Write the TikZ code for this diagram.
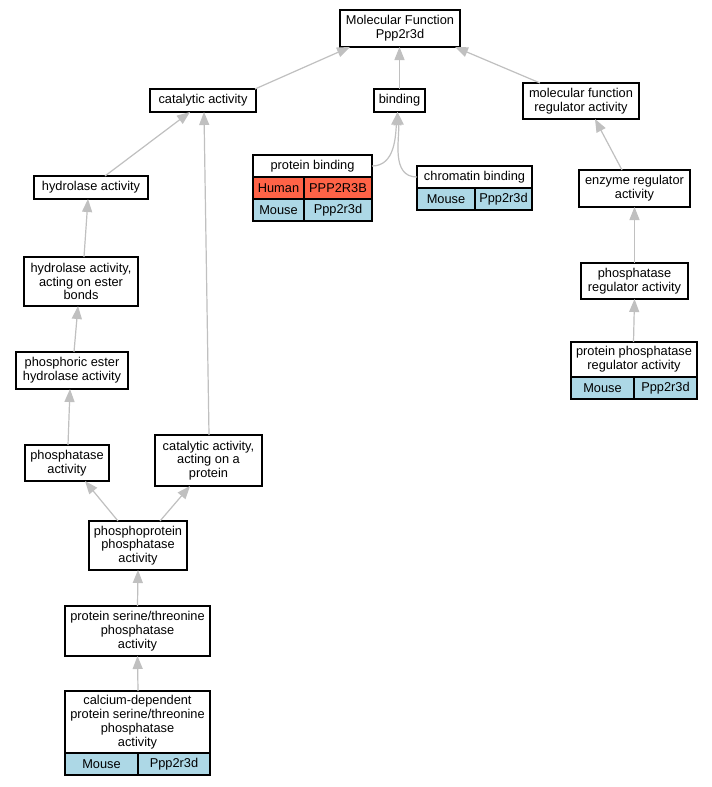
\documentclass[tikz,border=0pt]{standalone}
\usepackage{fontspec}
\setmainfont{Liberation Sans}
\usepackage{xcolor}
\usepackage{tikz}
\usetikzlibrary{positioning, arrows.meta}
\definecolor{mouseblue}{HTML}{ADD8E6}
\definecolor{humanred}{HTML}{FF6347}
\definecolor{edgegray}{HTML}{C0C0C0}
\newcommand{\gofont}{\fontsize{12.8}{13.8}\selectfont}
\tikzset{
  term/.style={draw=black, line width=1.1pt, fill=white, align=center,
               inner sep=1pt, outer sep=0pt, font=\gofont},
  mousecell/.style={term, fill=mouseblue, minimum height=22pt},
  humancell/.style={term, fill=humanred, minimum height=22pt},
  isa/.style={draw=edgegray, line width=1.2pt, -{Triangle[length=13pt, width=10pt]}},
}

\begin{document}
\begin{tikzpicture}[x=1pt, y=-1pt]
  \fill[white] (0,0) rectangle (712,787);
  \useasboundingbox (0,0) rectangle (712,787);

  % top levels
  \node[term, minimum width=120pt, minimum height=37pt] (mf) at (400,28.5) {Molecular Function\\Ppp2r3d};
  \node[term, minimum width=106pt, minimum height=23pt] (cat) at (203,100.5) {catalytic activity};
  \node[term, minimum width=51pt, minimum height=23pt] (bind) at (399.5,100.5) {binding};
  \node[term, minimum width=116pt, minimum height=36pt] (mfr) at (581,101) {molecular function\\regulator activity};

  % binding tables
  \node[term, minimum width=119pt, minimum height=22pt, anchor=north west] (pb) at (253,155) {protein binding};
  \node[humancell, minimum width=51pt, anchor=north west] (pbhs) at (pb.south west) {Human};
  \node[humancell, minimum width=68pt, anchor=north west] (pbhg) at (pbhs.north east) {PPP2R3B};
  \node[mousecell, minimum width=51pt, anchor=north west] (pbms) at (pbhs.south west) {Mouse};
  \node[mousecell, minimum width=68pt, anchor=north west] (pbmg) at (pbms.north east) {Ppp2r3d};

  \node[term, minimum width=115pt, minimum height=22pt, anchor=north west] (cb) at (417,166) {chromatin binding};
  \node[mousecell, minimum width=58pt, anchor=north west] (cbms) at (cb.south west) {Mouse};
  \node[mousecell, minimum width=57pt, anchor=north west] (cbmg) at (cbms.north east) {Ppp2r3d};

  % regulator branch
  \node[term, minimum width=111pt, minimum height=37pt] (enz) at (634.5,188.5) {enzyme regulator\\activity};
  \node[term, minimum width=107pt, minimum height=36pt] (phr) at (634.5,281) {phosphatase\\regulator activity};
  \node[term, minimum width=126pt, minimum height=35pt, anchor=north west] (ppr) at (571,342) {protein phosphatase\\regulator activity};
  \node[mousecell, minimum width=63pt, anchor=north west] (pprms) at (ppr.south west) {Mouse};
  \node[mousecell, minimum width=63pt, anchor=north west] (pprmg) at (pprms.north east) {Ppp2r3d};

  % hydrolase branch
  \node[term, minimum width=114pt, minimum height=23pt] (hyd) at (91,187.5) {hydrolase activity};
  \node[term, minimum width=114pt, minimum height=49pt] (hae) at (81,281.5) {hydrolase activity,\\acting on ester\\bonds};
  \node[term, minimum width=112pt, minimum height=37pt] (peh) at (72,370.5) {phosphoric ester\\hydrolase activity};
  \node[term, minimum width=84pt, minimum height=36pt] (pha) at (67,463) {phosphatase\\activity};
  \node[term, minimum width=107pt, minimum height=51pt] (cap) at (208.5,460.5) {catalytic activity,\\acting on a\\protein};
  \node[term, minimum width=98pt, minimum height=49pt] (ppp) at (138,545.5) {phosphoprotein\\phosphatase\\activity};
  \node[term, minimum width=145pt, minimum height=50pt] (pst) at (137.5,631) {protein serine/threonine\\phosphatase\\activity};
  \node[term, minimum width=145pt, minimum height=62pt, anchor=north west] (cal) at (65,691) {calcium-dependent\\protein serine/threonine\\phosphatase\\activity};
  \node[mousecell, minimum width=73pt, anchor=north west] (calms) at (cal.south west) {Mouse};
  \node[mousecell, minimum width=72pt, anchor=north west] (calmg) at (calms.north east) {Ppp2r3d};

  % is_a edges
  \draw[isa] ([xshift=52pt]cat.north) -- ([xshift=-50pt]mf.south);
  \draw[isa] (bind.north) -- ([xshift=-0.5pt]mf.south);
  \draw[isa] ([xshift=-41pt]mfr.north) -- ([xshift=55pt]mf.south);
  \draw[isa] ([xshift=14pt]hyd.north) -- ([xshift=-13pt]cat.south);
  \draw[isa] ([xshift=0.5pt]cap.north) -- ([xshift=1pt]cat.south);
  \draw[isa] (pb.east) to[out=0, in=-95] ([xshift=-2pt]bind.south);
  \draw[isa] (cb.west) to[out=180, in=-85] ([xshift=-2pt]bind.south);
  \draw[isa] ([xshift=-12.5pt]enz.north) -- ([xshift=14pt]mfr.south);
  \draw[isa] (phr.north) -- (enz.south);
  \draw[isa] ([xshift=-0.5pt]ppr.north) -- (phr.south);
  \draw[isa] ([xshift=3pt]hae.north) -- ([xshift=-3pt]hyd.south);
  \draw[isa] ([xshift=2pt]peh.north) -- ([xshift=-3pt]hae.south);
  \draw[isa] ([xshift=1pt]pha.north) -- ([xshift=-2pt]peh.south);
  \draw[isa] ([xshift=-20pt]ppp.north) -- ([xshift=18pt]pha.south);
  \draw[isa] ([xshift=22pt]ppp.north) -- ([xshift=-18.5pt]cap.south);
  \draw[isa] (pst.north) -- (ppp.south);
  \draw[isa] ([xshift=0.5pt]cal.north) -- (pst.south);
\end{tikzpicture}
\end{document}
